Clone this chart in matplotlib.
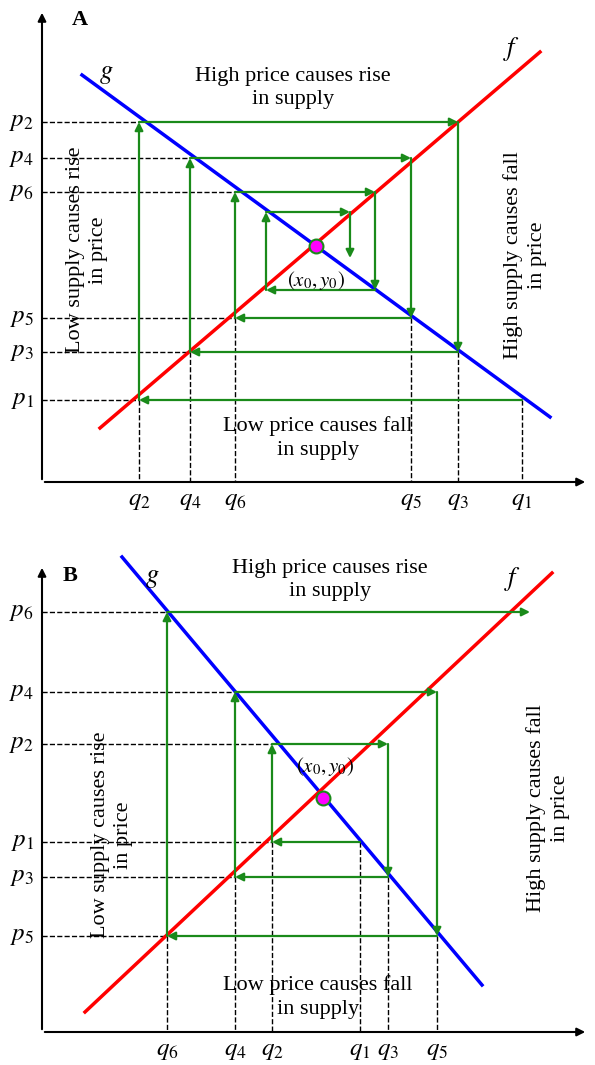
import matplotlib
matplotlib.use("Agg")
import matplotlib.pyplot as plt

plt.rcParams["font.family"] = ["Liberation Serif", "DejaVu Serif"]
plt.rcParams["mathtext.fontset"] = "stix"

# Panel A (pixel-like data units, y downward)
A_origin = (42, 482)
A_g = [(82, 75), (550, 417)]
A_f = [(100, 428), (540, 52)]
A_eq = (316, 246)
A_p = {"2": 122, "4": 158, "6": 192, "5": 318, "3": 352, "1": 400}
A_q = {"2": 139, "4": 190, "6": 235, "5": 411, "3": 458, "1": 522}
A_path = [(522, 400), (139, 400), (139, 122), (458, 122), (458, 352), (190, 352),
          (190, 158), (411, 158), (411, 318), (235, 318), (235, 192), (375, 192),
          (375, 290), (266, 290), (266, 212), (350, 212), (350, 258)]

# Panel B
B_origin = (42, 1032)
B_g = [(122, 557), (482, 985)]
B_f = [(85, 1012), (552, 573)]
B_eq = (323, 798)
B_p = {"6": 612, "4": 692, "2": 744, "1": 842, "3": 877, "5": 936}
B_q = {"6": 167, "4": 235, "2": 272, "1": 360, "3": 388, "5": 437}
B_path = [(360, 842), (272, 842), (272, 744), (388, 744), (388, 877), (235, 877),
          (235, 692), (437, 692), (437, 936), (167, 936), (167, 612), (530, 612)]

fig = plt.figure(figsize=(5.95, 10.65), dpi=100)
ax = fig.add_axes([0, 0, 1, 1])
ax.set_xlim(0, 595)
ax.set_ylim(1065, 0)
ax.axis("off")

green = "#1a8a1a"


def panel(origin, top, g, f, eq, p, q, path, gpts):
    ox, oy = origin
    ax.annotate("", xy=(ox, top), xytext=(ox, oy),
                arrowprops=dict(arrowstyle="-|>", color="black", lw=1.5, mutation_scale=12))
    ax.annotate("", xy=(588, oy), xytext=(ox, oy),
                arrowprops=dict(arrowstyle="-|>", color="black", lw=1.5, mutation_scale=12))
    # dashed guides from the axes to the cobweb corners
    for k, y in p.items():
        xs = [x for x, yy in path if yy == y]
        ax.plot([ox, min(xs)], [y, y], "k--", lw=1)
        ax.text(ox - 8, y, f"$p_{k}$", ha="right", va="center", fontsize=18)
    for k, x in q.items():
        ys = [yy for xx, yy in path if xx == x]
        ax.plot([x, x], [max(ys), oy], "k--", lw=1)
        ax.text(x, oy + 8, f"$q_{k}$", ha="center", va="top", fontsize=18)
    ax.plot(*zip(*g), color="blue", lw=2.5)
    ax.plot(*zip(*f), color="red", lw=2.5)
    for a, b in zip(path[:-1], path[1:]):
        ax.annotate("", xy=b, xytext=a,
                    arrowprops=dict(arrowstyle="-|>", color=green, lw=1.6,
                                    mutation_scale=12, shrinkA=0, shrinkB=0))
    ax.plot(*eq, "o", ms=10, mfc="magenta", mec=green, mew=1.5)
    ax.text(gpts[0], gpts[1], "$g$", fontsize=19, ha="center")
    ax.text(gpts[2], gpts[3], "$f$", fontsize=19, ha="center")


panel(A_origin, 10, A_g, A_f, A_eq, A_p, A_q, A_path, (106, 78, 512, 55))
panel(B_origin, 565, B_g, B_f, B_eq, B_p, B_q, B_path, (152, 582, 513, 585))

fs = 16
kw = dict(fontsize=fs, ha="center", va="center", linespacing=1.3)
ax.text(80, 25, "A", fontsize=16, fontweight="bold", ha="center")
ax.text(293, 88, "High price causes rise\nin supply", **kw)
ax.text(318, 438, "Low price causes fall\nin supply", **kw)
ax.text(87, 250, "Low supply causes rise\nin price", rotation=90, **kw)
ax.text(525, 255, "High supply causes fall\nin price", rotation=90, **kw)
ax.text(316, 281, "$(x_0,y_0)$", fontsize=15, ha="center", va="center")

ax.text(70, 581, "B", fontsize=16, fontweight="bold", ha="center")
ax.text(330, 580, "High price causes rise\nin supply", **kw)
ax.text(318, 997, "Low price causes fall\nin supply", **kw)
ax.text(112, 835, "Low supply causes rise\nin price", rotation=90, **kw)
ax.text(548, 808, "High supply causes fall\nin price", rotation=90, **kw)
ax.text(325, 767, "$(x_0,y_0)$", fontsize=15, ha="center", va="center")

fig.savefig("out.png", dpi=100)
